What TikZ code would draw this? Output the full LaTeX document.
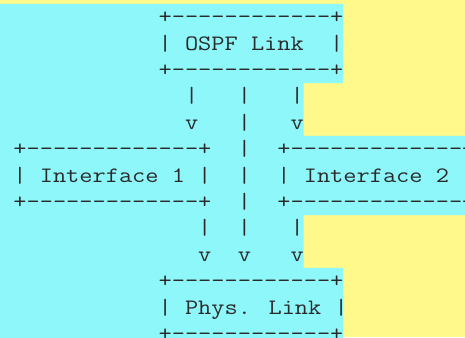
\documentclass[tikz,border=0pt]{standalone}
\usepackage{graphicx}
\definecolor{paleyellow}{HTML}{FEF98A}
\definecolor{palecyan}{HTML}{8EF7F9}
\definecolor{inkgray}{HTML}{2A2A2A}
\newlength\ascw
\newcommand\asc[1]{\scalebox{\ascscale}[1]{#1}}
\begin{document}
\settowidth{\ascw}{\fontsize{22}{26.4}\selectfont\ttfamily M}
\pgfmathsetmacro\ascscale{13.2pt/\ascw}
\begin{tikzpicture}[x=13.2pt,y=-26.4pt,
  ascii/.style={anchor=base west,inner sep=0pt,text=inkgray,font=\fontsize{22}{26.4}\selectfont\ttfamily}]
\useasboundingbox (0pt,0pt) rectangle (465pt,-337pt);
\clip (0pt,0pt) rectangle (465pt,-337pt);

% backgrounds
\fill[paleyellow] (0pt,0pt) rectangle (465pt,-337pt);
\fill[palecyan] (0,0.15) -- (26,0.15) -- (26,3.15) -- (23,3.15) -- (23,5.15)
  -- (36,5.15) -- (36,8.15) -- (23,8.15) -- (23,10.15) -- (26,10.15)
  -- (26,13.2) -- (0,13.2) -- cycle;

% OSPF link
\node[ascii] (ospftop) at (12,0.9)  {\asc{+------------+}};
\node[ascii] (ospf)    at (12,1.9)  {\asc{| OSPF Link\ \ |}};
\node[ascii] (ospfbot) at (12,2.9)  {\asc{+------------+}};

\node[ascii] (upa1) at (14,3.9) {\asc{|}};
\node[ascii] (upb1) at (18,3.9) {\asc{|}};
\node[ascii] (upc1) at (22,3.9) {\asc{|}};
\node[ascii] (upa2) at (14,4.9) {\asc{v}};
\node[ascii] (upb2) at (18,4.9) {\asc{|}};
\node[ascii] (upc2) at (22,4.9) {\asc{v}};

% interfaces
\node[ascii] (ifatop) at (1,5.9) {\asc{+-------------+}};
\node[ascii] (ifa)    at (1,6.9) {\asc{| Interface 1 |}};
\node[ascii] (ifabot) at (1,7.9) {\asc{+-------------+}};
\node[ascii] (midb1)  at (18,5.9) {\asc{|}};
\node[ascii] (midb2)  at (18,6.9) {\asc{|}};
\node[ascii] (midb3)  at (18,7.9) {\asc{|}};
\node[ascii] (ifbtop) at (21,5.9) {\asc{+-------------+}};
\node[ascii] (ifb)    at (21,6.9) {\asc{| Interface 2 |}};
\node[ascii] (ifbbot) at (21,7.9) {\asc{+-------------+}};

\node[ascii] (dna1) at (15,8.9) {\asc{|}};
\node[ascii] (dnb1) at (18,8.9) {\asc{|}};
\node[ascii] (dnc1) at (22,8.9) {\asc{|}};
\node[ascii] (dna2) at (15,9.9) {\asc{v}};
\node[ascii] (dnb2) at (18,9.9) {\asc{v}};
\node[ascii] (dnc2) at (22,9.9) {\asc{v}};

% physical link
\node[ascii] (phystop) at (12,10.9) {\asc{+------------+}};
\node[ascii] (phys)    at (12,11.9) {\asc{| Phys. Link |}};
\node[ascii] (physbot) at (12,12.9) {\asc{+------------+}};

\end{tikzpicture}
\end{document}
